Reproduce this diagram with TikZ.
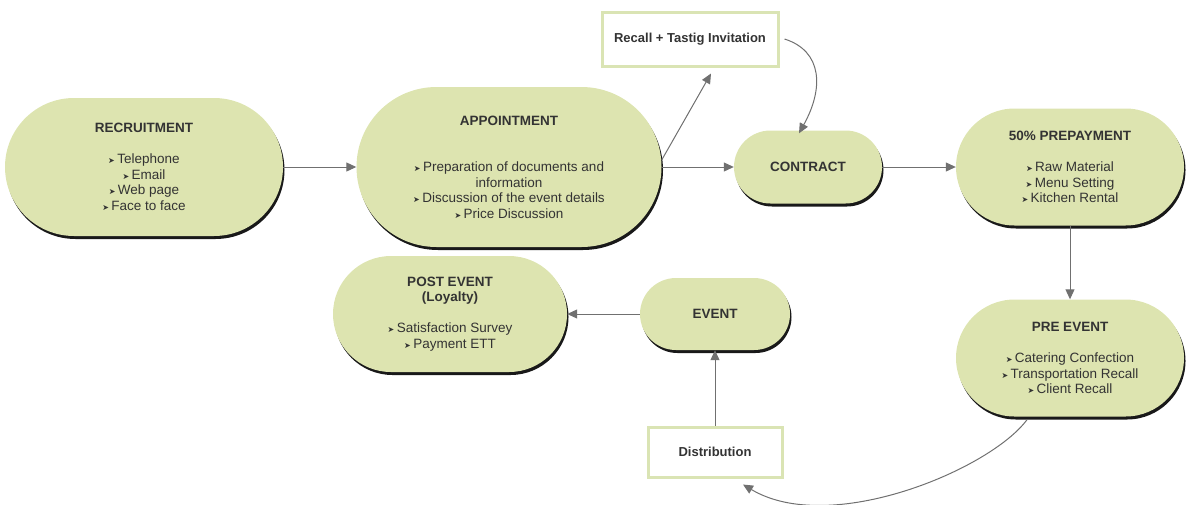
\documentclass[tikz,border=0pt]{standalone}
\usepackage{fontspec}
\setmainfont{Liberation Sans}
\newfontfamily\dejavu{DejaVu Sans}
\usetikzlibrary{arrows.meta,shadows,shapes.misc}
\definecolor{pillfill}{RGB}{221,228,176}
\definecolor{boxline}{RGB}{218,228,180}
\definecolor{txt}{RGB}{51,51,51}
\definecolor{arrowc}{RGB}{112,112,112}
\newcommand{\bl}{{\dejavu\fontsize{8}{8}\selectfont ➤}\hspace{2.5pt}}
\begin{document}
\begin{tikzpicture}[x=1pt,y=1pt,
  pill/.style 2 args={rounded rectangle, minimum width=#1, minimum height=#2,
    inner sep=0pt, fill=pillfill, draw=none,
    drop shadow={shadow xshift=1.5pt, shadow yshift=-3pt, fill=black, opacity=0.9},
    align=center, text=txt, font=\fontsize{13.5}{15.5}\selectfont},
  labelbox/.style 2 args={rectangle, minimum width=#1, minimum height=#2,
    inner sep=0pt, fill=white, draw=boxline, line width=3pt,
    text=txt, font=\fontsize{13}{15.5}\selectfont\bfseries},
  arr/.style={draw=arrowc, line width=1pt, -{Triangle[length=10pt,width=9pt]}, fill=none}
]
\useasboundingbox (0,0) rectangle (1186,-504);

\node[pill={278}{138}] (rec) at (144,-167)
  {\textbf{RECRUITMENT}\\[15.5pt]\bl Telephone\\ \bl Email\\ \bl Web page\\ \bl Face to face};
\node[pill={305}{160}] (app) at (509,-167)
  {\textbf{APPOINTMENT}\\[31pt]\bl Preparation of documents and\\ information\\ \bl Discussion of the event details\\ \bl Price Discussion};
\node[pill={148}{73}] (con) at (808,-167) {\textbf{CONTRACT}};
\node[pill={228}{117}] (prep) at (1070,-167)
  {\textbf{50\% PREPAYMENT}\\[15.5pt]\bl Raw Material\\ \bl Menu Setting\\ \bl Kitchen Rental};
\node[pill={228}{117}] (pre) at (1070,-358)
  {\textbf{PRE EVENT}\\[15.5pt]\bl Catering Confection\\ \bl Transportation Recall\\ \bl Client Recall};
\node[pill={150}{72}] (ev) at (715,-314) {\textbf{EVENT}};
\node[pill={234}{116}] (post) at (450,-314)
  {\textbf{POST EVENT}\\ \textbf{(Loyalty)}\\[15.5pt]\bl Satisfaction Survey\\ \bl Payment ETT};

\node[labelbox={176}{54}] (recall) at (690,-39) {Recall + Tastig Invitation};
\node[labelbox={134}{50}] (dist) at (715,-452) {Distribution};

\draw[arr] (rec.east) -- (app.west);
\draw[arr] (app.east) -- (con.west);
\draw[arr] ([yshift=7pt]app.east) -- ([xshift=21pt,yshift=-6pt]recall.south);
\draw[arr] ([xshift=5pt]recall.east) .. controls +(38,-12) and +(25,45) .. ([xshift=-9pt,yshift=-3pt]con.north);
\draw[arr] (con.east) -- (prep.west);
\draw[arr] (prep.south) -- (pre.north);
\draw[arr] ([xshift=-43pt,yshift=-3pt]pre.south) .. controls +(-37,-50) and +(87,-52) .. ([xshift=28pt,yshift=-6pt]dist.south);
\draw[arr] (dist.north) -- (ev.south);
\draw[arr] (ev.west) -- (post.east);
\end{tikzpicture}
\end{document}
